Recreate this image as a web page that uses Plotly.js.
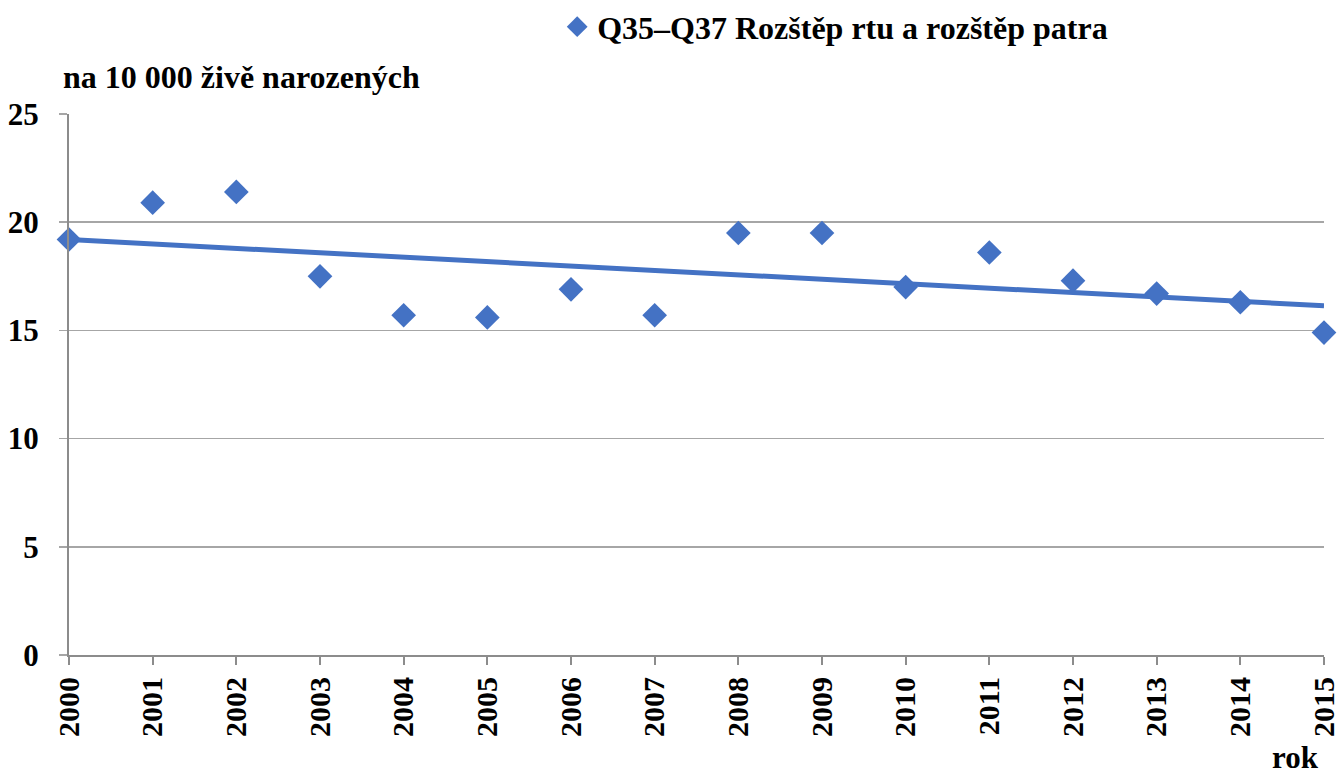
<!DOCTYPE html>
<html>
<head>
<meta charset="utf-8">
<script src="https://cdn.plot.ly/plotly-3.0.1.min.js"></script>
<style>html,body{margin:0;padding:0;background:#fff;}#chart{width:1339px;height:778px;}</style>
</head>
<body>
<div id="chart"></div>
<script>
const years = [2000,2001,2002,2003,2004,2005,2006,2007,2008,2009,2010,2011,2012,2013,2014,2015];
const rates = [19.2,20.9,21.4,17.5,15.7,15.6,16.9,15.7,19.5,19.5,17.0,18.6,17.3,16.7,16.3,14.9];
const seriesName = "Q35–Q37 Rozštěp rtu a rozštěp patra";
const yTitle = "na 10 000 živě narozených";
const xTitle = "rok";

// linear trend (least squares) from the data
const n = years.length;
const mx = years.reduce((a,b)=>a+b,0)/n;
const my = rates.reduce((a,b)=>a+b,0)/n;
let sxy = 0, sxx = 0;
for (let i=0;i<n;i++){ sxy += (years[i]-mx)*(rates[i]-my); sxx += (years[i]-mx)**2; }
const slope = sxy/sxx, icpt = my - slope*mx;
const trendX = [years[0], years[n-1]];
const trendY = trendX.map(x => icpt + slope*x);

const blue = "#4472C4";
const font = "Liberation Serif";

const traces = [
  {x: trendX, y: trendY, mode: "lines", line:{color: blue, width: 5}, showlegend:false, hoverinfo:"skip", cliponaxis:false},
  {x: years, y: rates, mode: "markers", name: "<b>" + seriesName + "</b>",
   marker:{symbol:"diamond", size:19, color: blue}, cliponaxis:false}
];

const layout = {
  width: 1339, height: 778,
  margin: {l:69, r:15, t:114, b:123, autoexpand: false},
  paper_bgcolor: "#fff", plot_bgcolor: "#fff",
  font: {family: font, color: "#000"},
  showlegend: true,
  legend: {x: 0.389, y: 1.161, xanchor: "left", yanchor: "middle", orientation: "h",
           font: {family: font, size: 32, color: "#000", weight: 700}, bgcolor: "rgba(0,0,0,0)"},
  xaxis: {range: [2000, 2015], tickmode: "array", tickvals: years, ticktext: years.map(v => "<b>" + v + "</b>"),
          tickangle: -90, tickfont: {family: font, size: 30, weight: 700, color:"#000"}, ticklabeloverflow: "allow",
          showgrid: false, zeroline: false, showline: true, linecolor: "#8c8c8c", linewidth: 2,
          ticks: "outside", ticklen: 8, tickcolor: "#8c8c8c", tickwidth: 2, fixedrange:true},
  yaxis: {range: [0, 25], tickmode: "array", tickvals: [0,5,10,15,20,25],
          ticktext: [0,5,10,15,20,25].map(v => "<b>" + v + "</b>"),
          tickfont: {family: font, size: 31, weight: 700, color:"#000"},
          showgrid: true, gridcolor: "#a6a6a6", gridwidth: 1.5, zeroline: false,
          showline: true, linecolor: "#8c8c8c", linewidth: 2,
          ticks: "outside", ticklen: 8, tickcolor: "#a6a6a6", tickwidth: 1.5, ticklabelstandoff: 14, fixedrange:true},
  annotations: [
    {text: "<b>" + yTitle + "</b>", xref: "paper", yref: "paper", x: -0.006, y: 1.068, xanchor: "left", yanchor: "middle",
     showarrow: false, font: {family: font, size: 32, weight: 700, color: "#000"}},
    {text: "<b>" + xTitle + "</b>", xref: "paper", yref: "paper", x: 0.998, y: -0.19, xanchor: "right", yanchor: "middle",
     showarrow: false, font: {family: font, size: 31, weight: 700, color: "#000"}}
  ]
};

Plotly.newPlot("chart", traces, layout, {displayModeBar: false, staticPlot: true});
</script>
</body>
</html>
